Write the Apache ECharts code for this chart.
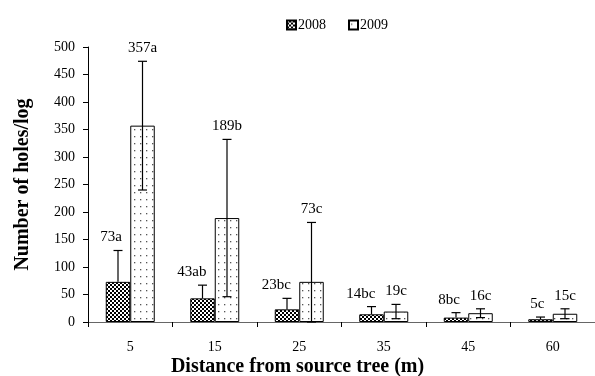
<!DOCTYPE html>
<html>
<head>
<meta charset="utf-8">
<script src="https://cdn.jsdelivr.net/npm/echarts@6/dist/echarts.min.js"></script>
<style>
  html, body { margin: 0; padding: 0; background: #fff; }
  #chart { width: 595px; height: 376px; }
</style>
</head>
<body>
<div id="chart"></div>
<script>
// distances (m)
var categories = ['5', '15', '25', '35', '45', '60'];
// mean holes per log
var mean2008 = [73, 43, 23, 14, 8, 5];
var mean2009 = [357, 189, 73, 19, 16, 15];
// error bar sizes
var err2008 = [57, 24, 20, 14, 9, 4];
var err2009 = [117, 143, 108, 13, 8, 9];
// significance letters
var letters2008 = ['a', 'ab', 'bc', 'bc', 'bc', 'c'];
var letters2009 = ['a', 'b', 'c', 'c', 'c', 'c'];
var yTicks = [0, 50, 100, 150, 200, 250, 300, 350, 400, 450, 500];

var FONT = '"Liberation Serif", "Times New Roman", serif';
var BAR_W = 24.5;

function checker() {
  var c = document.createElement('canvas');
  c.width = 4; c.height = 4;
  var ctx = c.getContext('2d');
  ctx.fillStyle = '#000';
  ctx.fillRect(0, 0, 4, 4);
  ctx.fillStyle = '#fff';
  ctx.fillRect(0, 0, 2, 2);
  ctx.fillRect(2, 2, 2, 2);
  return c;
}
function dots() {
  var c = document.createElement('canvas');
  c.width = 6; c.height = 7;
  var ctx = c.getContext('2d');
  ctx.fillStyle = '#fff';
  ctx.fillRect(0, 0, 6, 7);
  ctx.fillStyle = '#555';
  ctx.fillRect(2, 3, 1.3, 1.3);
  return c;
}

function errSeries(name, means, errs, letters, side, bothWays) {
  var data = means.map(function (m, i) { return [i, m, errs[i]]; });
  return {
    name: name,
    type: 'custom',
    z: 5,
    encode: { x: 0, y: 1 },
    data: data,
    renderItem: function (params, api) {
      var i = api.value(0), m = api.value(1), e = api.value(2);
      var c = api.coord([i, m]);
      var x = c[0] + side * BAR_W / 2;
      var hi = api.coord([i, m + e])[1];
      var lo = bothWays ? api.coord([i, Math.max(0, m - e)])[1] : c[1];
      var st = { stroke: '#000', lineWidth: 1.2 };
      var kids = [
        { type: 'line', shape: { x1: x, y1: lo, x2: x, y2: hi }, style: st },
        { type: 'line', shape: { x1: x - 4.5, y1: hi, x2: x + 4.5, y2: hi }, style: st }
      ];
      if (bothWays) {
        kids.push({ type: 'line', shape: { x1: x - 4.5, y1: lo, x2: x + 4.5, y2: lo }, style: st });
      }
      kids.push({
        type: 'text',
        style: {
          text: means[params.dataIndex] + letters[params.dataIndex],
          x: side < 0 ? x + 4 : x,
          y: hi - 13,
          align: side < 0 ? 'right' : 'center',
          verticalAlign: 'middle',
          font: '15px ' + FONT,
          fill: '#000'
        }
      });
      return { type: 'group', children: kids };
    }
  };
}

var chart = echarts.init(document.getElementById('chart'));
var option = {
  animation: false,
  backgroundColor: '#fff',
  textStyle: { fontFamily: FONT, color: '#000' },
  grid: { left: 88, right: -8, top: 47, bottom: 54, containLabel: false },
  legend: {
    data: ['2008', '2009'],
    left: 281,
    top: 13,
    itemWidth: 9,
    itemHeight: 9,
    itemGap: 22,
    icon: 'rect',
    textStyle: { fontFamily: FONT, fontSize: 14, color: '#000', padding: [0, 0, 0, -3] }
  },
  xAxis: {
    type: 'category',
    data: categories,
    axisLine: { lineStyle: { color: '#666', width: 1 } },
    axisTick: { show: true, length: 5, lineStyle: { color: '#000' } },
    axisLabel: { fontFamily: FONT, fontSize: 14, color: '#000', margin: 18 }
  },
  yAxis: {
    type: 'value',
    min: yTicks[0],
    max: yTicks[yTicks.length - 1],
    interval: 50,
    name: 'Number of holes/log',
    nameLocation: 'middle',
    nameGap: 55,
    nameTextStyle: { fontFamily: FONT, fontSize: 20, fontWeight: 'bold', color: '#000' },
    axisLine: { show: true, lineStyle: { color: '#000', width: 1 } },
    axisTick: { show: true, length: 5, lineStyle: { color: '#000' } },
    axisLabel: { fontFamily: FONT, fontSize: 14, color: '#000', margin: 13 },
    splitLine: { show: false }
  },
  graphic: [{
    type: 'text',
    left: 'center',
    top: 357,
    style: {
      text: 'Distance from source tree (m)',
      font: 'bold 20px ' + FONT,
      fill: '#000',
      x: 45
    }
  }],
  series: [
    {
      name: '2008',
      type: 'bar',
      barWidth: BAR_W,
      barGap: '0%',
      data: mean2008,
      itemStyle: { color: { image: checker(), repeat: 'repeat' }, borderColor: '#000', borderWidth: 1 }
    },
    {
      name: '2009',
      type: 'bar',
      barWidth: BAR_W,
      barGap: '0%',
      data: mean2009,
      itemStyle: { color: { image: dots(), repeat: 'repeat' }, borderColor: '#000', borderWidth: 1 }
    },
    errSeries('err2008', mean2008, err2008, letters2008, -1, false),
    errSeries('err2009', mean2009, err2009, letters2009, 1, true)
  ]
};
chart.setOption(option);
</script>
</body>
</html>
